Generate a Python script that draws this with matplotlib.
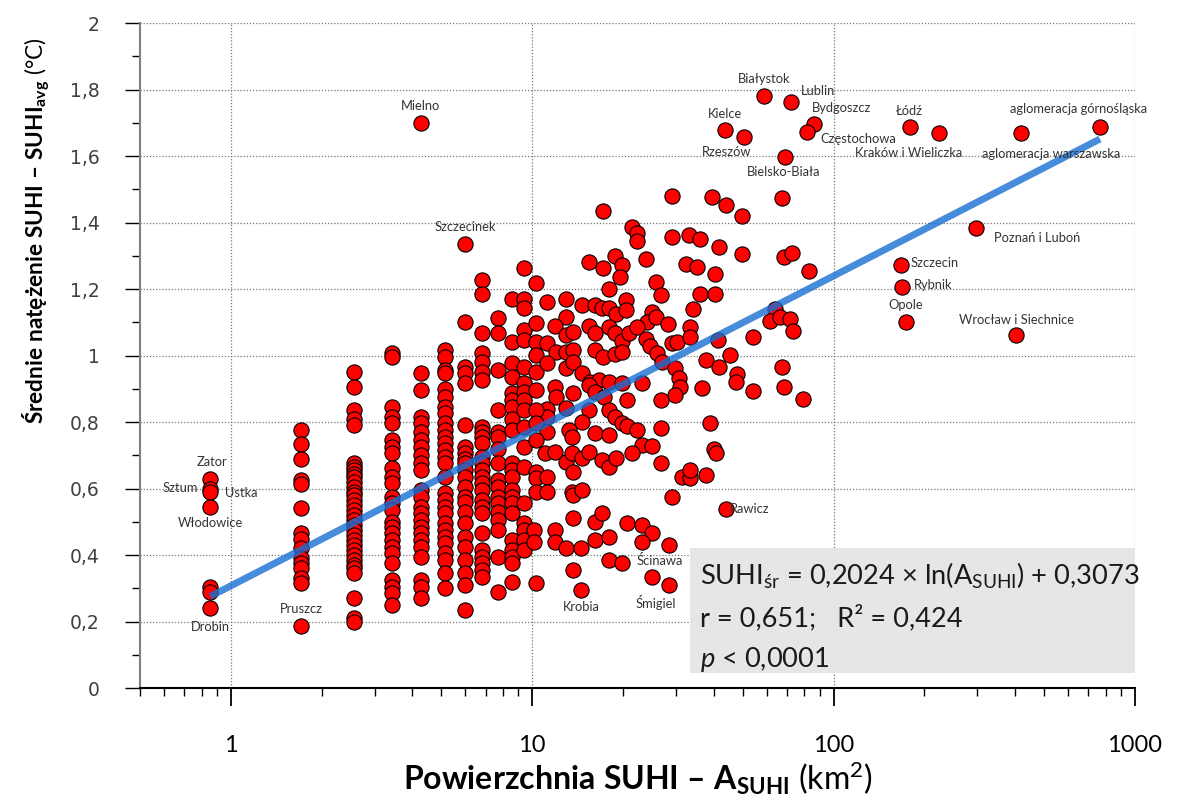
import matplotlib.pyplot as plt
import numpy as np
from matplotlib.patches import Rectangle
from matplotlib.ticker import FixedLocator, MultipleLocator, FuncFormatter, NullFormatter

plt.rcParams['mathtext.fontset'] = 'custom'
plt.rcParams['mathtext.rm'] = 'Lato'
plt.rcParams['mathtext.it'] = 'Lato:italic'
plt.rcParams['mathtext.bf'] = 'Lato:bold'
plt.rcParams['mathtext.default'] = 'regular'

# area of SUHI (km2) - small ones come in whole pixels of 0.855 km2
col_area = [0.855, 1.71, 2.565, 3.42, 4.275, 5.13, 5.985, 6.84, 7.695, 8.55, 9.405]
col_vals = [
    [0.305, 0.29],
    [0.776, 0.734, 0.689, 0.625, 0.615, 0.54, 0.466, 0.448, 0.42, 0.39, 0.375, 0.36, 0.33, 0.316],
    [0.95, 0.905, 0.836, 0.81, 0.79, 0.677, 0.665, 0.655, 0.645, 0.635, 0.62, 0.605, 0.59, 0.58,
     0.565, 0.55, 0.535, 0.52, 0.505, 0.49, 0.475, 0.46, 0.445, 0.43, 0.415, 0.40, 0.385, 0.37,
     0.36, 0.345, 0.27, 0.21, 0.20],
    [1.007, 0.995, 0.845, 0.815, 0.797, 0.746, 0.725, 0.706, 0.661, 0.635, 0.616, 0.575, 0.556,
     0.535, 0.50, 0.485, 0.466, 0.445, 0.424, 0.405, 0.375, 0.325, 0.305, 0.285, 0.25],
    [0.947, 0.896, 0.815, 0.797, 0.77, 0.746, 0.725, 0.70, 0.677, 0.656, 0.595, 0.575, 0.545,
     0.526, 0.505, 0.485, 0.466, 0.445, 0.424, 0.394, 0.325, 0.305, 0.27],
    [1.017, 0.995, 0.956, 0.947, 0.90, 0.875, 0.845, 0.826, 0.797, 0.776, 0.755, 0.737, 0.716,
     0.695, 0.677, 0.635, 0.586, 0.565, 0.545, 0.526, 0.496, 0.475, 0.454, 0.436, 0.405, 0.385,
     0.346, 0.30],
    [1.10, 0.965, 0.947, 0.917, 0.79, 0.725, 0.706, 0.69, 0.677, 0.656, 0.635, 0.605, 0.575,
     0.56, 0.53, 0.496, 0.454, 0.424, 0.385, 0.346, 0.31, 0.235],
    [1.227, 1.185, 1.068, 1.007, 0.98, 0.95, 0.926, 0.785, 0.77, 0.755, 0.737, 0.695, 0.677,
     0.656, 0.635, 0.616, 0.595, 0.565, 0.545, 0.526, 0.466, 0.415, 0.394, 0.375, 0.355, 0.334],
    [1.112, 1.068, 0.956, 0.836, 0.77, 0.755, 0.72, 0.677, 0.625, 0.605, 0.575, 0.556, 0.53,
     0.505, 0.475, 0.394, 0.29],
    [1.169, 1.04, 0.977, 0.935, 0.887, 0.866, 0.845, 0.81, 0.776, 0.677, 0.656, 0.635, 0.595,
     0.575, 0.556, 0.526, 0.445, 0.415, 0.394, 0.375, 0.32],
    [1.262, 1.169, 1.142, 1.077, 1.047, 0.965, 0.917, 0.89, 0.866, 0.836, 0.785, 0.725, 0.665,
     0.556, 0.496, 0.475, 0.445, 0.415],
]

# larger, unlabeled SUHI
area_big = [29.1, 17.2, 21.5, 22.3, 22.3, 29.1, 33.1, 15.4, 17.2, 18.8, 19.8, 19.6, 23.9, 32.3,
            10.3, 18.0, 25.7, 26.7, 11.2, 12.9, 14.6, 16.2, 17.0, 18.0, 18.9, 20.5, 20.5, 24.9,
            24.0, 25.7, 28.2, 12.9, 10.3, 11.9, 12.9, 13.7, 15.4, 16.2, 18.0, 18.8, 19.8, 20.9,
            22.2, 23.9, 24.6, 26.0, 26.9, 29.1, 30.2, 10.3, 10.3, 11.2, 12.0, 12.9, 13.7, 16.2,
            17.2, 18.8, 19.8, 10.3, 11.2, 12.9, 13.7, 14.6, 15.5, 16.6, 18.0, 19.8, 23.2, 29.8,
            30.6, 31.0, 29.8, 10.3, 11.9, 12.0, 13.7, 15.4, 16.2, 17.3, 20.7, 26.7, 18.0, 18.8,
            19.8, 20.7, 22.3, 26.7, 15.4, 14.6, 12.9, 11.2, 11.2, 10.3, 10.3, 11.2, 13.2, 13.6,
            16.2, 18.0, 23.2, 25.0, 10.3,
            39.4, 43.9, 49.6, 67.5, 36.1, 41.8, 49.6, 68.5, 72.9, 82.9, 35.3, 40.4, 36.1, 40.4,
            34.1, 33.3, 33.3, 41.2, 53.9, 64.0, 61.6, 66.5, 71.8, 73.6, 37.6, 45.3, 41.8, 47.9,
            47.3, 36.7, 53.9, 67.5, 68.5, 78.9, 39.0, 40.0,
            10.3, 10.3, 10.3, 11.2, 11.2, 11.0, 11.9, 12.9, 13.6, 13.7, 13.6, 13.7, 14.6, 14.6,
            15.4, 17.0, 18.0, 18.9, 21.5, 26.7, 31.4, 33.5, 33.5, 37.6, 40.6, 29.1, 10.1, 10.1,
            11.9, 11.9, 12.9, 13.7, 14.5, 16.2, 17.0, 16.2, 18.0, 20.7, 23.2, 25.0, 23.2, 28.4,
            18.0, 13.7, 10.3, 25.0]
suhi_big = [1.48, 1.435, 1.387, 1.37, 1.344, 1.357, 1.362, 1.282, 1.262, 1.30, 1.272, 1.235,
            1.289, 1.274, 1.219, 1.199, 1.221, 1.182, 1.162, 1.169, 1.152, 1.152, 1.142, 1.142,
            1.125, 1.167, 1.137, 1.132, 1.102, 1.115, 1.095, 1.117, 1.099, 1.089, 1.062, 1.072,
            1.089, 1.067, 1.087, 1.069, 1.045, 1.067, 1.087, 1.049, 1.029, 1.008, 0.981, 1.037,
            1.042, 1.042, 1.002, 1.039, 1.012, 1.012, 1.017, 1.017, 0.997, 1.005, 1.012, 0.951,
            0.977, 0.962, 0.981, 0.946, 0.921, 0.926, 0.921, 0.916, 0.916, 0.962, 0.931, 0.906,
            0.881, 0.896, 0.906, 0.876, 0.888, 0.911, 0.891, 0.876, 0.866, 0.866, 0.836, 0.814,
            0.798, 0.788, 0.776, 0.781, 0.836, 0.801, 0.841, 0.838, 0.816, 0.836, 0.796, 0.771,
            0.776, 0.756, 0.766, 0.761, 0.731, 0.728, 0.746,
            1.476, 1.453, 1.42, 1.473, 1.349, 1.327, 1.305, 1.297, 1.307, 1.255, 1.265, 1.245,
            1.185, 1.185, 1.139, 1.087, 1.055, 1.047, 1.055, 1.139, 1.105, 1.115, 1.109, 1.075,
            0.986, 1.002, 0.964, 0.944, 0.921, 0.901, 0.894, 0.964, 0.906, 0.868, 0.796, 0.718,
            0.651, 0.631, 0.59, 0.636, 0.59, 0.706, 0.711, 0.681, 0.706, 0.651, 0.59, 0.58, 0.595,
            0.691, 0.711, 0.686, 0.666, 0.691, 0.706, 0.676, 0.636, 0.631, 0.656, 0.641, 0.706,
            0.575, 0.475, 0.44, 0.475, 0.44, 0.42, 0.51, 0.42, 0.50, 0.525, 0.445, 0.455, 0.495,
            0.49, 0.465, 0.44, 0.43, 0.385, 0.355, 0.315, 0.335]

# labeled towns
names = ['Zator', 'Sztum', 'Ustka', 'Włodowice', 'Drobin', 'Pruszcz', 'Mielno', 'Szczecinek',
         'Krobia', 'Ścinawa', 'Śmigiel', 'Rawicz', 'Białystok', 'Lublin', 'Kielce', 'Rzeszów',
         'Bydgoszcz', 'Częstochowa', 'Bielsko-Biała', 'Łódź', 'Kraków i Wieliczka',
         'aglomeracja warszawska', 'aglomeracja górnośląska', 'Poznań i Luboń', 'Szczecin',
         'Rybnik', 'Opole', 'Wrocław i Siechnice']
name_area = [0.855, 0.855, 0.855, 0.855, 0.855, 1.71, 4.275, 5.985, 14.5, 19.9, 28.4, 43.9,
             58.8, 72.4, 43.6, 50.5, 85.8, 81.7, 69.0, 178.9, 224, 417, 765, 297, 167, 168,
             174, 403]
name_suhi = [0.63, 0.60, 0.59, 0.545, 0.24, 0.186, 1.70, 1.335, 0.295, 0.375, 0.31, 0.537,
             1.78, 1.763, 1.678, 1.658, 1.696, 1.673, 1.596, 1.688, 1.668, 1.668, 1.686, 1.383,
             1.272, 1.207, 1.102, 1.062]
# label offsets (pixels)
name_off = [(2, 17), (-30, 1), (31, -1), (0, -16), (0, -19), (0, 17), (0, 17), (0, 17),
            (0, -17), (37, 3), (-13, -18), (24, 0), (0, 17), (27, 11), (0, 16), (-18, -15),
            (28, 16), (51, -7), (-1, -15), (0, 16), (-31, -20), (31, -21), (-21, 18), (61, -10),
            (34, 2), (32, 2), (0, 17), (0, 15)]

coef_a = 0.2024
coef_b = 0.3073

xs = []
ys = []
for a, vals in zip(col_area, col_vals):
    xs += [a] * len(vals)
    ys += vals
xs += area_big + name_area
ys += suhi_big + name_suhi

fig = plt.figure(figsize=(11.78, 8.05), dpi=100)
ax = fig.add_axes([0.1189, 0.1453, 0.8446, 0.8261])

ax.scatter(xs, ys, s=120, c='#ff0000', edgecolors='black', linewidths=0.8, zorder=3)

xl = np.linspace(min(xs), max(xs), 200)
ax.plot(xl, coef_a * np.log(xl) + coef_b, color='#186fd3', lw=5, alpha=0.8, zorder=5,
        solid_capstyle='butt')

for n, a, v, off in zip(names, name_area, name_suhi, name_off):
    ax.annotate(n, (a, v), xytext=off, textcoords='offset pixels', ha='center', va='center',
                fontsize=9.3, family='Lato', color='#333333', zorder=6)

ax.set_xscale('log')
ax.set_xlim(0.5, 1000)
ax.set_ylim(0, 2)
ax.xaxis.set_major_locator(FixedLocator([1, 10, 100, 1000]))
ax.xaxis.set_minor_locator(FixedLocator([m * 10.0 ** e for e in range(-1, 3) for m in range(2, 10)
                                         if 0.5 <= m * 10.0 ** e < 1000]))
ax.xaxis.set_major_formatter(FuncFormatter(lambda v, p: '%d' % v))
ax.xaxis.set_minor_formatter(NullFormatter())
ax.yaxis.set_major_locator(MultipleLocator(0.2))
ax.yaxis.set_minor_locator(MultipleLocator(0.1))
ax.yaxis.set_major_formatter(FuncFormatter(lambda v, p: ('%g' % round(v, 1)).replace('.', ',')))

ax.grid(True, which='major', linestyle=(0, (1, 1.5)), color='#777777', lw=0.9)
ax.set_axisbelow(True)
for s in ['top', 'right']:
    ax.spines[s].set_visible(False)
ax.spines['left'].set_color('#808080')
ax.spines['left'].set_linewidth(1.5)
ax.spines['bottom'].set_color('black')
ax.spines['bottom'].set_linewidth(1.5)

ax.tick_params(axis='y', which='major', length=11, width=1, pad=18, labelsize=13.5,
               labelcolor='#404040')
ax.tick_params(axis='y', which='minor', length=6, width=1)
ax.tick_params(axis='x', which='major', length=13, width=1.3, pad=21, labelsize=17)
ax.tick_params(axis='x', which='minor', length=6, width=1)
for lab in ax.get_xticklabels():
    lab.set_family('Lato')
for lab in ax.get_yticklabels():
    lab.set_family('DejaVu Sans')

# equation box
ax.add_patch(Rectangle((0.5528, 0.0226), 0.4472, 0.188, transform=ax.transAxes,
                       fc='#e6e6e6', ec='none', zorder=4))
box_kw = dict(transform=ax.transAxes, fontsize=19.6, family='Lato', color='#1a1a1a',
              va='baseline', ha='left', zorder=6)
ax.text(0.5628, 0.155, r'SUHI$_{śr}$ = 0,2024 × ln(A$_{SUHI}$) + 0,3073', **box_kw)
ax.text(0.5628, 0.093, 'r = 0,651;   R² = 0,424', **box_kw)
ax.text(0.5628, 0.0316, r'$\mathit{p}$ < 0,0001', **box_kw)

fig.text(0.5416, 0.0186, r'$\mathbf{Powierzchnia\ SUHI\ –\ A_{SUHI}}\ (km^{2})$',
         ha='center', va='baseline', fontsize=23, family='Lato')
fig.text(0.0306, 0.713, r'$\mathbf{Średnie\ natężenie\ SUHI\ –\ SUHI_{avg}}\ (°C)$',
         ha='center', va='center', rotation=90, fontsize=16.3, family='Lato')

fig.savefig('out.png', dpi=100)
